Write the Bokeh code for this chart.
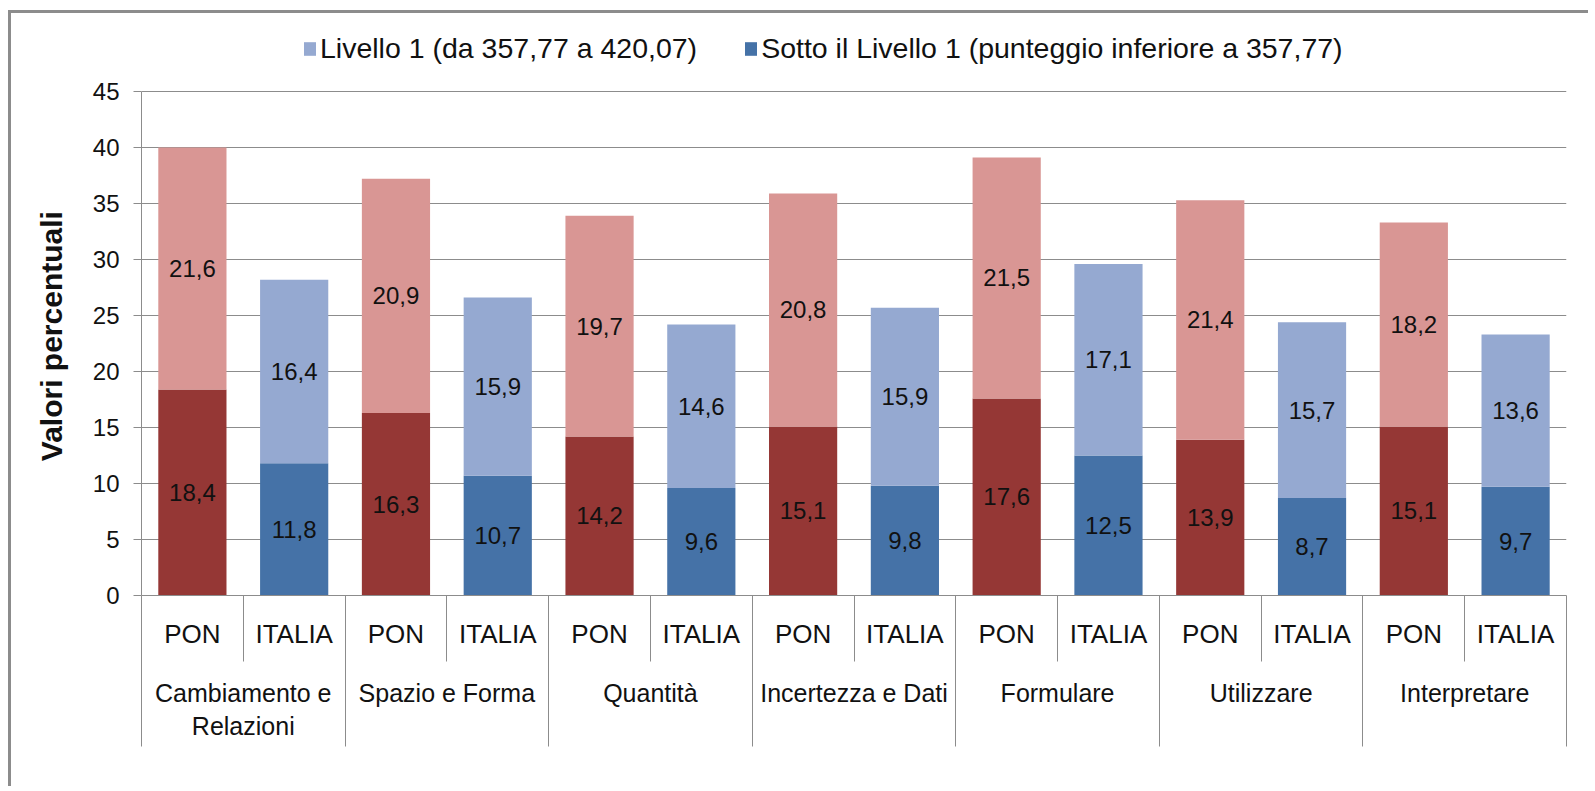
from bokeh.plotting import figure
from bokeh.models import (ColumnDataSource, FixedTicker, LinearAxis, Legend, LegendItem,
                          LabelSet, Range1d)
from bokeh.core.properties import value
from bokeh.embed import file_html
from bokeh.resources import INLINE

# ---------------- data ----------------
groups = ["Cambiamento e\nRelazioni", "Spazio e Forma", "Quantità", "Incertezza e Dati",
          "Formulare", "Utilizzare", "Interpretare"]
subgroups = ["PON", "ITALIA"]
pon_sotto = [18.4, 16.3, 14.2, 15.1, 17.6, 13.9, 15.1]
pon_liv1 = [21.6, 20.9, 19.7, 20.8, 21.5, 21.4, 18.2]
ita_sotto = [11.8, 10.7, 9.6, 9.8, 12.5, 8.7, 9.7]
ita_liv1 = [16.4, 15.9, 14.6, 15.9, 17.1, 15.7, 13.6]
y_ticks = [0, 5, 10, 15, 20, 25, 30, 35, 40, 45]
legend_labels = ["Livello 1 (da 357,77 a 420,07)",
                 "Sotto il Livello 1 (punteggio inferiore a 357,77)"]
y_label = "Valori percentuali"

# ---------------- style ----------------
DARK_RED = "#953735"
LIGHT_RED = "#D99694"
DARK_BLUE = "#4572A7"
LIGHT_BLUE = "#95A9D1"
GREY = "#8c8c8c"
FONT = "Liberation Sans"
TXT = "#111111"

n = len(groups)
y_max = y_ticks[-1]
# each sub-category occupies 2 units of x; each group 4 units
pon_x = [4 * i + 1 for i in range(n)]
ita_x = [4 * i + 3 for i in range(n)]

# layout (page px): plot area top 91, bottom 595; the frame is extended upward
# to 18 so that the legend (an annotation) can sit above the gridded area
AREA_TOP, AREA_BOT, FRAME_TOP = 91, 595, 18
y_top = y_max * (AREA_BOT - FRAME_TOP) / (AREA_BOT - AREA_TOP)


def fmt(v):
    return f"{v:.1f}".replace(".", ",")


pon_src = ColumnDataSource(dict(x=pon_x, sotto=pon_sotto, liv1=pon_liv1))
ita_src = ColumnDataSource(dict(x=ita_x, sotto=ita_sotto, liv1=ita_liv1))

p = figure(width=1580, height=776, x_range=Range1d(0, 4 * n), y_range=Range1d(0, y_top),
           x_axis_type=None, output_backend="svg", toolbar_location=None,
           min_border_left=130, min_border_right=25, min_border_top=FRAME_TOP - 13,
           min_border_bottom=776 - (AREA_BOT - 13))
p.styles = {"margin-left": "8px", "margin-top": "10px",
            "border-left": f"3px solid {GREY}", "border-top": f"3px solid {GREY}"}
p.outline_line_color = None
p.background_fill_color = "white"
p.border_fill_color = "white"

pon_r = p.vbar_stack(["sotto", "liv1"], x="x", width=1.34, source=pon_src,
                     color=[DARK_RED, LIGHT_RED], line_color=None)
ita_r = p.vbar_stack(["sotto", "liv1"], x="x", width=1.34, source=ita_src,
                     color=[DARK_BLUE, LIGHT_BLUE], line_color=None)

# value labels
lx, ly, lt = [], [], []
for xs, bot, top in ((pon_x, pon_sotto, pon_liv1), (ita_x, ita_sotto, ita_liv1)):
    for x, b, t in zip(xs, bot, top):
        lx += [x, x]
        ly += [b / 2, b + t / 2]
        lt += [fmt(b), fmt(t)]
lab_src = ColumnDataSource(dict(x=lx, y=ly, t=lt))
p.add_layout(LabelSet(x="x", y="y", text="t", source=lab_src, text_align="center",
                      text_baseline="middle", text_font=value(FONT), text_font_size="24px",
                      text_color=TXT))

# y axis (label padded with no-break spaces so it centres on the gridded area)
yt = FixedTicker(ticks=y_ticks)
p.yaxis.ticker = yt
p.yaxis.bounds = (0, y_max)
p.yaxis.axis_label = y_label + "\u00a0" * 7
p.yaxis.axis_label_text_font = FONT
p.yaxis.axis_label_text_font_style = "bold"
p.yaxis.axis_label_text_font_size = "30px"
p.yaxis.axis_label_text_color = TXT
p.yaxis.axis_label_standoff = 22
p.yaxis.major_label_text_font = FONT
p.yaxis.major_label_text_font_size = "24px"
p.yaxis.major_label_text_color = TXT
p.yaxis.major_label_standoff = 14
p.yaxis.major_tick_in = 0
p.yaxis.major_tick_out = 8
p.yaxis.minor_tick_line_color = None
p.yaxis.axis_line_color = GREY
p.yaxis.major_tick_line_color = GREY
p.ygrid.ticker = yt
p.ygrid.bounds = (0, y_max)
p.ygrid.grid_line_color = GREY
p.xgrid.visible = False

# x axis, level 1 (PON / ITALIA)
sub_ticks = []
sub_over = {}
for i in range(n):
    sub_ticks += [pon_x[i], ita_x[i]]
    sub_over[pon_x[i]] = subgroups[0]
    sub_over[ita_x[i]] = subgroups[1]
ax1 = LinearAxis(ticker=FixedTicker(ticks=sub_ticks, minor_ticks=list(range(0, 4 * n + 1, 2))),
                 major_label_overrides=sub_over)
ax1.major_tick_in = 0
ax1.major_tick_out = 0
ax1.minor_tick_in = 0
ax1.minor_tick_out = 66
ax1.minor_tick_line_color = GREY
ax1.axis_line_color = GREY
ax1.major_label_standoff = -43
ax1.major_label_text_font = FONT
ax1.major_label_text_font_size = "26px"
ax1.major_label_text_color = TXT

# x axis, level 2 (groups)
grp_ticks = [4 * i + 2 for i in range(n)]
ax2 = LinearAxis(ticker=FixedTicker(ticks=grp_ticks, minor_ticks=list(range(0, 4 * n + 1, 4))),
                 major_label_overrides={t: g for t, g in zip(grp_ticks, groups)})
ax2.major_tick_in = 0
ax2.major_tick_out = 0
ax2.minor_tick_in = 0
ax2.minor_tick_out = 95
ax2.minor_tick_line_color = GREY
ax2.axis_line_color = None
ax2.major_label_standoff = -68
ax2.major_label_text_font = FONT
ax2.major_label_text_font_size = "25px"
ax2.major_label_text_color = TXT

p.add_layout(ax1, "below")
p.add_layout(ax2, "below")

legend = Legend(items=[LegendItem(label=legend_labels[0], renderers=[ita_r[1]]),
                       LegendItem(label=legend_labels[1], renderers=[ita_r[0]])],
                orientation="horizontal", location=(161, AREA_BOT - 48 - 17))
legend.border_line_color = None
legend.background_fill_alpha = 0
legend.label_text_font = FONT
legend.label_text_font_size = "28.5px"
legend.label_text_color = TXT
legend.glyph_width = 15
legend.glyph_height = 17
legend.label_standoff = 3
legend.spacing = 46
legend.padding = 0
legend.margin = 0
p.add_layout(legend)

open("out.html", "w").write(file_html(p, INLINE))
